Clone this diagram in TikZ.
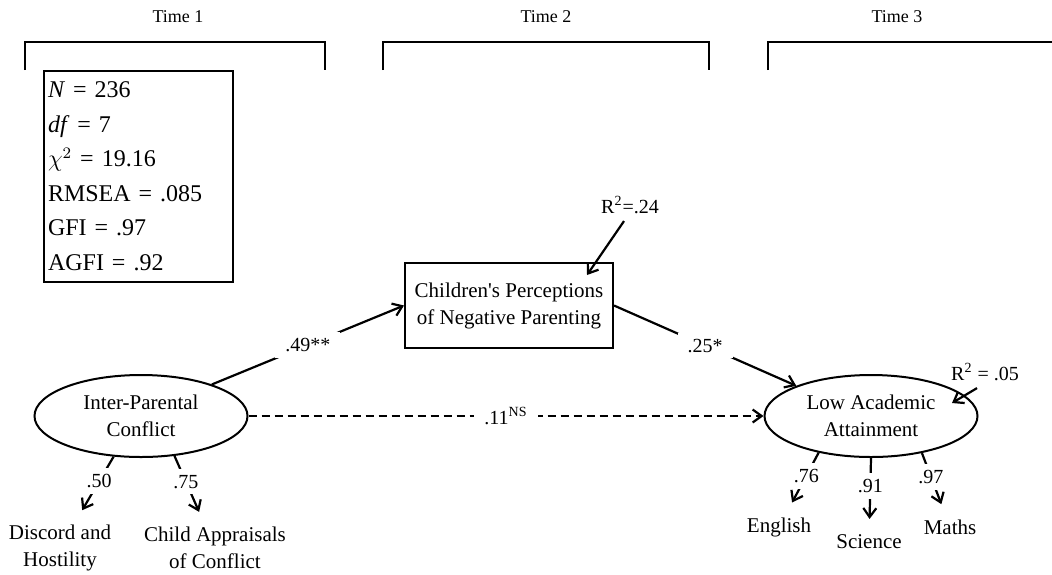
\documentclass[tikz,border=0pt]{standalone}
\usepackage{fontspec}
\setmainfont{Liberation Serif}
\usetikzlibrary{shapes.geometric, arrows.meta, positioning}

\begin{document}
\begin{tikzpicture}[x=0.5pt, y=-0.5pt, line width=1pt,
    every node/.style={font=\fontsize{10.5}{13.5}\selectfont, align=center},
    latent/.style={draw, ellipse, minimum width=106.5pt, minimum height=41pt, inner sep=0pt},
    observed/.style={draw, rectangle, minimum width=104pt, minimum height=42.5pt, inner sep=0pt},
    coef/.style={fill=white, inner sep=3pt, font=\fontsize{10}{12}\selectfont},
    indicator/.style={inner sep=3pt},
    arr/.style={-{Straight Barb[length=4.5pt, width=6.5pt]}, line width=1.1pt},
    timelabel/.style={font=\fontsize{9}{11}\selectfont}
]
    \useasboundingbox (0,0) rectangle (1052,574);

    % --- Time brackets ---
    \node[timelabel] (time1) at (178,17) {Time 1};
    \node[timelabel] (time2) at (546,17) {Time 2};
    \node[timelabel] (time3) at (897,17) {Time 3};
    \draw (25,70) -- (25,42) -- (325,42) -- (325,70);
    \draw (383,70) -- (383,42) -- (709,42) -- (709,70);
    \draw (768,70) -- (768,42) -- (1052,42);

    % --- Fit statistics ---
    \node[draw, anchor=north west, text width=90.5pt, align=left, inner xsep=2pt, inner ysep=5.5pt,
        font=\fontsize{12}{17.25}\selectfont] (stats) at (43,70)
        {\textit{N} = 236\\ \textit{df} = 7\\ $\chi^2$ = 19.16\\ RMSEA = .085\\ GFI = .97\\ AGFI = .92};

    % --- Constructs ---
    \node[observed] (cpnp) at (509,305.5) {Children\textquotesingle s Perceptions\\of Negative Parenting};
    \node[latent] (ipc) at (141,416) {Inter-Parental\\Conflict};
    \node[latent] (lae) at (871,416) {Low Academic\\Attainment};

    % --- Indicators ---
    \node[indicator] (disc) at (60,548) {Discord and\\Hostility};
    \node[indicator] (chap) at (215,548) {Child Appraisals\\of Conflict};
    \node[indicator] (engl) at (779,527) {English};
    \node[indicator] (scie) at (869,542) {Science};
    \node[indicator] (math) at (950,527) {Maths};

    % --- Explained variance ---
    \node[font=\fontsize{10}{12}\selectfont] (rcpnp) at (630,205) {R\textsuperscript{2}=.24};
    \node[font=\fontsize{10}{12}\selectfont] (rlae) at (985,372) {R\textsuperscript{2} = .05};
    \coordinate (rcpnptip) at (587,275);
    \coordinate (rlaetip) at (952,403);
    \draw[arr] ([xshift=-3pt]rcpnp.south) -- (rcpnptip);
    \draw[arr] ([xshift=-4pt]rlae.south) -- (rlaetip);

    % --- Structural paths ---
    \draw[arr] (ipc.24) -- node[coef, inner xsep=5pt] {.49**} (cpnp.west);
    \draw[arr] (cpnp.east) -- node[coef, inner xsep=5pt] {.25*} (lae.158);
    \draw[arr, dash pattern=on 4pt off 2.5pt] (ipc.east) -- node[coef, inner xsep=5pt] {.11\textsuperscript{NS}} (lae.west);

    % --- Loadings ---
    \draw[arr, shorten >=4.5pt] (ipc.-124) -- node[coef, pos=0.4] {.50} (disc);
    \draw[arr, shorten >=4.5pt] (ipc.-50) -- node[coef, pos=0.4] {.75} (chap);
    \draw[arr, shorten >=4.5pt] (lae.-145) -- node[coef, pos=0.4] {.76} (engl);
    \draw[arr, shorten >=4.5pt] (lae.south) -- node[coef, pos=0.4] {.91} (scie);
    \draw[arr, shorten >=4.5pt] (lae.-36) -- node[coef, pos=0.4] {.97} (math);
\end{tikzpicture}
\end{document}
